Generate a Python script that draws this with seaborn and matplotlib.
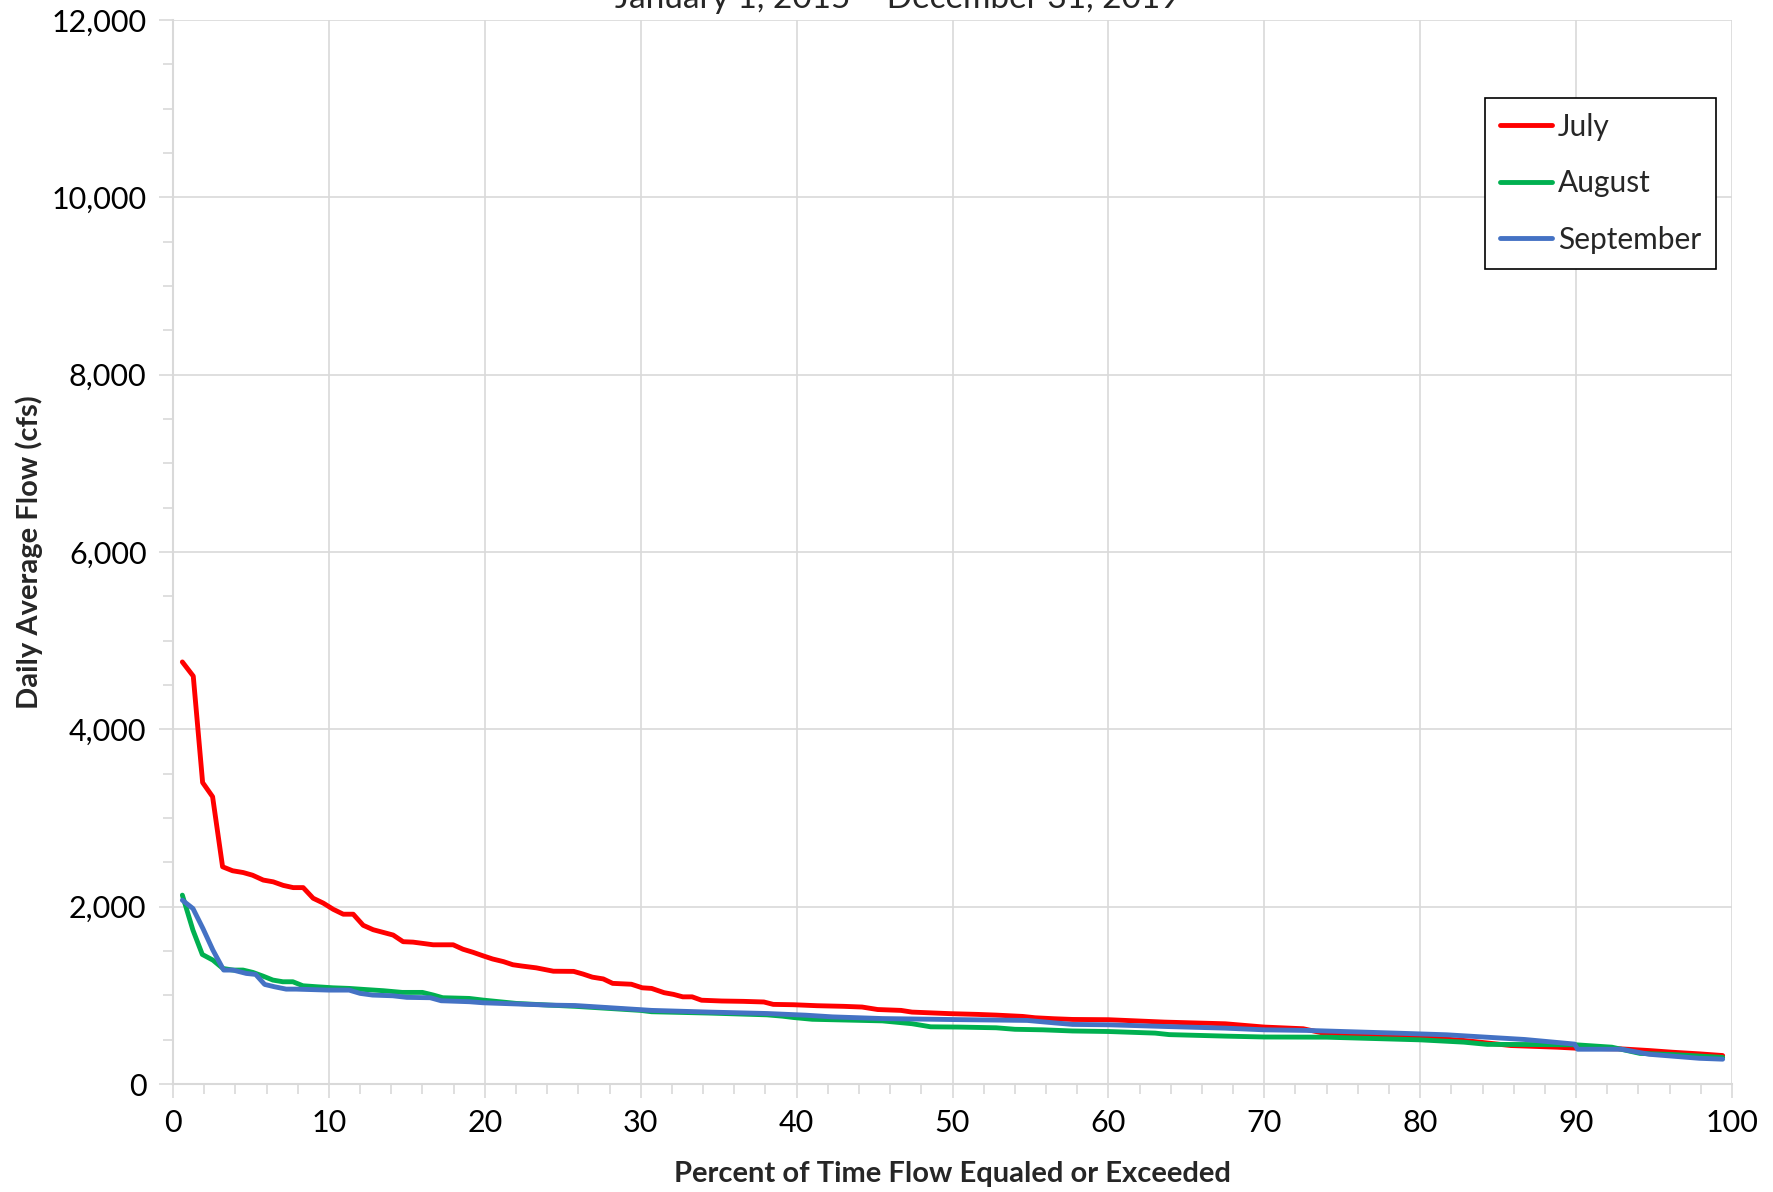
import numpy as np
import pandas as pd
import matplotlib
matplotlib.use("Agg")
import matplotlib.pyplot as plt
from matplotlib.ticker import MultipleLocator, FuncFormatter
import seaborn as sns

# ---- data ----
july_pct = [0.6, 1.3, 1.9, 2.54, 3.18, 3.82, 4.5, 5.1, 5.79, 6.43, 7.07, 7.71, 8.35, 8.99,
            9.64, 10.28, 10.92, 11.56, 12.2, 12.84, 13.48, 14.12, 14.76, 15.4, 16.05, 16.69,
            17.33, 17.97, 18.6, 19.25, 19.9, 20.5, 21.2, 21.8, 22.4, 23.3, 24.4, 25.7, 26.3,
            26.9, 27.6, 28.2, 29.4, 30.1, 30.7, 31.5, 32.1, 32.7, 33.3, 33.9, 35.2, 36.6,
            37.9, 38.5, 39.8, 41.3, 43.0, 44.2, 45.2, 46.7, 47.4, 49.9, 51.6, 52.8, 54.5,
            55.3, 56.5, 57.7, 60.0, 63.6, 67.5, 70.0, 72.5, 74.0, 80.0, 82.8, 85.8, 88.8,
            90.0, 92.9, 94.7, 96.2, 97.9, 99.4]
july_flow = [4760, 4600, 3400, 3240, 2450, 2405, 2385, 2355, 2300, 2280, 2240, 2215, 2215, 2095,
             2040, 1970, 1915, 1915, 1790, 1740, 1710, 1680, 1605, 1600, 1585, 1570,
             1570, 1570, 1520, 1485, 1445, 1410, 1380, 1345, 1330, 1310, 1272, 1270, 1240,
             1205, 1185, 1135, 1125, 1085, 1078, 1030, 1011, 983, 983, 945, 936, 932,
             925, 898, 894, 883, 876, 868, 840, 830, 811, 793, 785, 777, 762,
             747, 736, 728, 725, 698, 679, 642, 623, 566, 528, 491, 434, 415,
             404, 396, 377, 358, 340, 321]

aug_pct = [0.6, 1.28, 1.88, 2.56, 3.2, 3.85, 4.49, 5.13, 5.77, 6.41, 7.05, 7.69, 8.33, 9.2,
           10.26, 11.3, 12.2, 13.5, 14.7, 16.0, 16.7, 17.3, 19.0, 19.9, 22.0, 24.1, 25.8,
           30.0, 30.7, 34.4, 38.1, 39.1, 39.8, 41.0, 45.5, 47.4, 48.6, 50.4, 52.8, 54.0,
           55.8, 57.7, 60.0, 63.0, 63.9, 67.5, 70.0, 74.0, 80.0, 82.8, 84.3, 87.3, 90.0,
           92.3, 94.1, 96.2, 99.4]
aug_flow = [2130, 1735, 1461, 1397, 1303, 1285, 1285, 1258, 1217, 1172, 1153, 1153, 1108, 1097,
            1085, 1078, 1067, 1052, 1033, 1033, 1003, 973, 965, 946, 909, 890, 876,
            830, 815, 800, 780, 765, 750, 730, 712, 680, 645, 642, 634, 617,
            611, 598, 592, 574, 557, 540, 530, 528, 498, 472, 447, 445, 442,
            415, 345, 332, 300]

sep_pct = [0.6, 1.28, 1.92, 2.56, 3.25, 3.85, 4.7, 5.3, 5.88, 6.5, 7.26, 7.9, 10.0, 11.3,
           12.0, 12.8, 14.1, 15.0, 16.5, 17.2, 19.0, 19.9, 24.1, 25.8, 30.0, 30.7, 34.4,
           38.1, 40.6, 42.3, 45.5, 50.4, 54.8, 56.5, 57.7, 60.0, 63.6, 67.5, 70.0, 72.8,
           78.4, 81.7, 86.7, 89.3, 89.9, 90.1, 92.9, 94.7, 97.9, 99.4]
sep_flow = [2073, 1979, 1754, 1510, 1285, 1285, 1247, 1236, 1123, 1097, 1070, 1070, 1059, 1059,
            1022, 1003, 995, 977, 973, 939, 928, 916, 890, 885, 838, 830, 811,
            795, 776, 757, 738, 726, 717, 690, 672, 668, 649, 630, 611, 604,
            574, 555, 502, 460, 450, 392, 392, 335, 290, 280]

months = ["July", "August", "September"]
colors = ["#FF0000", "#00B050", "#4472C4"]
title_text = "January 1, 2015 \u2013 December 31, 2019"
x_label = "Percent of Time Flow Equaled or Exceeded"
y_label = "Daily Average Flow (cfs)"

df = pd.concat([
    pd.DataFrame({"pct": july_pct, "flow": july_flow, "Month": months[0]}),
    pd.DataFrame({"pct": aug_pct, "flow": aug_flow, "Month": months[1]}),
    pd.DataFrame({"pct": sep_pct, "flow": sep_flow, "Month": months[2]}),
], ignore_index=True)

# ---- style ----
sns.set_theme(style="whitegrid")
plt.rcParams["font.family"] = ["Lato", "DejaVu Sans"]
grid_c = "#D9D9D9"

fig = plt.figure(figsize=(17.73, 11.92), dpi=100)
ax = fig.add_axes([173 / 1773, 1 - 1084 / 1192, (1732 - 173) / 1773, (1084 - 20) / 1192])

sns.lineplot(data=df, x="pct", y="flow", hue="Month", hue_order=months,
             palette=colors, estimator=None, sort=False, linewidth=3.5, ax=ax)

ax.set_xlim(0, 100)
ax.set_ylim(0, 12000)
ax.xaxis.set_major_locator(MultipleLocator(10))
ax.xaxis.set_minor_locator(MultipleLocator(2))
ax.yaxis.set_major_locator(MultipleLocator(2000))
ax.yaxis.set_minor_locator(MultipleLocator(500))
ax.yaxis.set_major_formatter(FuncFormatter(lambda v, _: f"{v:,.0f}"))

ax.grid(True, which="major", color=grid_c, linewidth=1.2)
ax.grid(False, which="minor")
for s in ["top", "right"]:
    ax.spines[s].set_visible(False)
for s in ["left", "bottom"]:
    ax.spines[s].set_color(grid_c)
    ax.spines[s].set_linewidth(1.5)

ax.tick_params(axis="both", which="both", bottom=True, left=True, color=grid_c,
               width=1.2, labelcolor="black", labelsize=22)
ax.tick_params(axis="both", which="major", length=10)
ax.tick_params(axis="both", which="minor", length=7)
ax.tick_params(axis="x", which="major", pad=8)
ax.tick_params(axis="y", which="major", pad=9)

ax.set_xlabel(x_label, fontsize=21, fontweight="bold", labelpad=17)
ax.set_ylabel(y_label, fontsize=21, fontweight="bold", labelpad=6)

leg = ax.legend(loc="upper left", bbox_to_anchor=((1485 - 173) / 1559, (1084 - 98) / 1064),
                fontsize=21.5, frameon=True, fancybox=False, shadow=False, framealpha=1,
                edgecolor="black", handlelength=1.75, handletextpad=0.2,
                labelspacing=0.95, borderpad=0.5, borderaxespad=0, title=None)
leg.get_frame().set_linewidth(1.2)
for line in leg.get_lines():
    line.set_linewidth(3.5)

fig.text(0.506, 1 - 8 / 1192, title_text, ha="center", va="baseline", fontsize=24)

fig.savefig("out.png", dpi=100)
